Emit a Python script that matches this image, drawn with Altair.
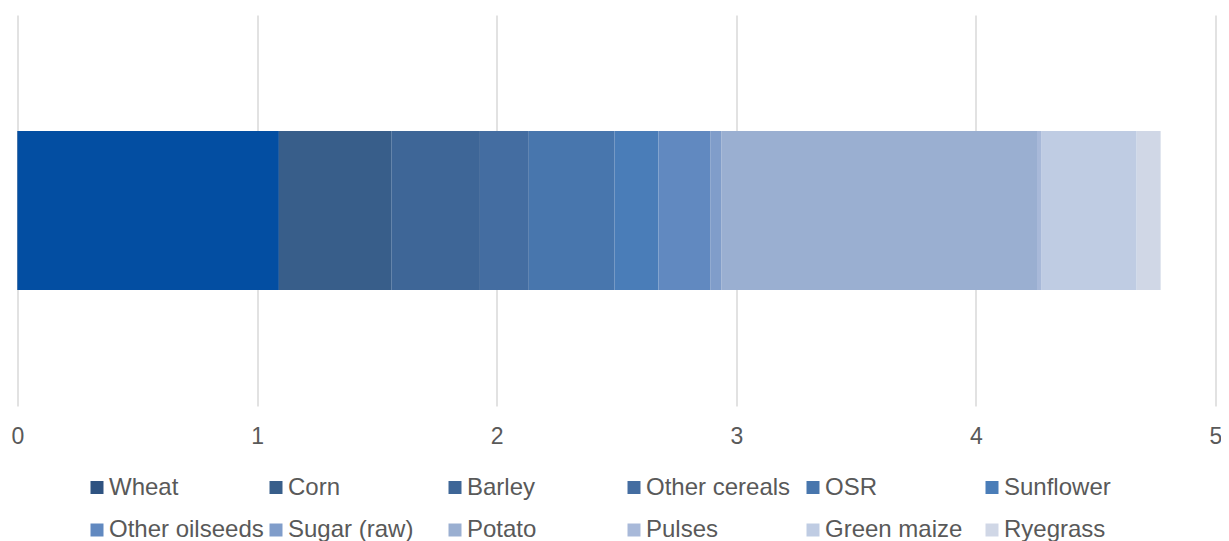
import altair as alt
import pandas as pd

categories = ["Wheat", "Corn", "Barley", "Other cereals", "OSR", "Sunflower",
              "Other oilseeds", "Sugar (raw)", "Potato", "Pulses", "Green maize", "Ryegrass"]
values = [1.090, 0.470, 0.370, 0.204, 0.358, 0.183, 0.216, 0.046, 1.318, 0.017, 0.399, 0.100]
colors = ["#2F5381", "#385E8A", "#3E6697", "#446DA1", "#4876AD", "#4A7DB8",
          "#6189C0", "#809DCA", "#9AAFD1", "#A8B9D9", "#BFCCE3", "#D0D7E6"]
highlight_category = "Wheat"
highlight_color = "#034EA2"
x_ticks = [0, 1, 2, 3, 4, 5]

df = pd.DataFrame({
    "cat": categories,
    "value": values,
    "idx": list(range(len(categories))),
    "grp": ["all"] * len(categories),
})

FONT = "Liberation Sans"
TEXT = "#595959"

base = alt.Chart(df).transform_stack(
    stack="value", as_=["x0", "x1"], groupby=["grp"],
    sort=[alt.SortField("idx", order="ascending")]
)

x_enc = alt.X("x0:Q",
              scale=alt.Scale(domain=[0, 5], nice=False, zero=True),
              axis=alt.Axis(values=x_ticks, format="d", domain=False, ticks=False,
                            grid=True, gridColor="#D9D9D9", gridWidth=1.5,
                            labelFlush=False,
                            labelFontSize=23, labelColor=TEXT, labelFont=FONT,
                            labelPadding=19, title=None))
y_enc = alt.Y("grp:N", axis=None,
              scale=alt.Scale(paddingInner=0.593, paddingOuter=0.2965))

bars = base.mark_bar().encode(
    x=x_enc,
    x2="x1:Q",
    y=y_enc,
    color=alt.Color("cat:N",
                    scale=alt.Scale(domain=categories, range=colors),
                    sort=categories,
                    legend=alt.Legend(title=None, orient="none", legendX=67.5, legendY=460.5,
                                      direction="horizontal", columns=6, gridAlign="all",
                                      columnPadding=0, rowPadding=18.5,
                                      symbolType="square", symbolSize=169,
                                      symbolStrokeWidth=0, labelOffset=0,
                                      labelFontSize=24, labelFont=FONT, labelColor=TEXT,
                                      labelLimit=400, padding=0)),
    order=alt.Order("idx:Q"),
)

hl = base.transform_filter(alt.datum.cat == highlight_category).mark_bar(
    color=highlight_color).encode(
    x=alt.X("x0:Q"),
    x2="x1:Q",
    y=alt.Y("grp:N", axis=None))

chart = alt.layer(bars, hl).properties(
    width=1198, height=391,
    autosize=alt.AutoSizeParams(type="none"),
    padding={"left": 9.5, "top": 7, "right": 5.5, "bottom": 135},
).configure(font=FONT).configure_view(strokeWidth=0, stroke="transparent")

chart.save("out.html", embed_options={"renderer": "svg", "actions": False})
